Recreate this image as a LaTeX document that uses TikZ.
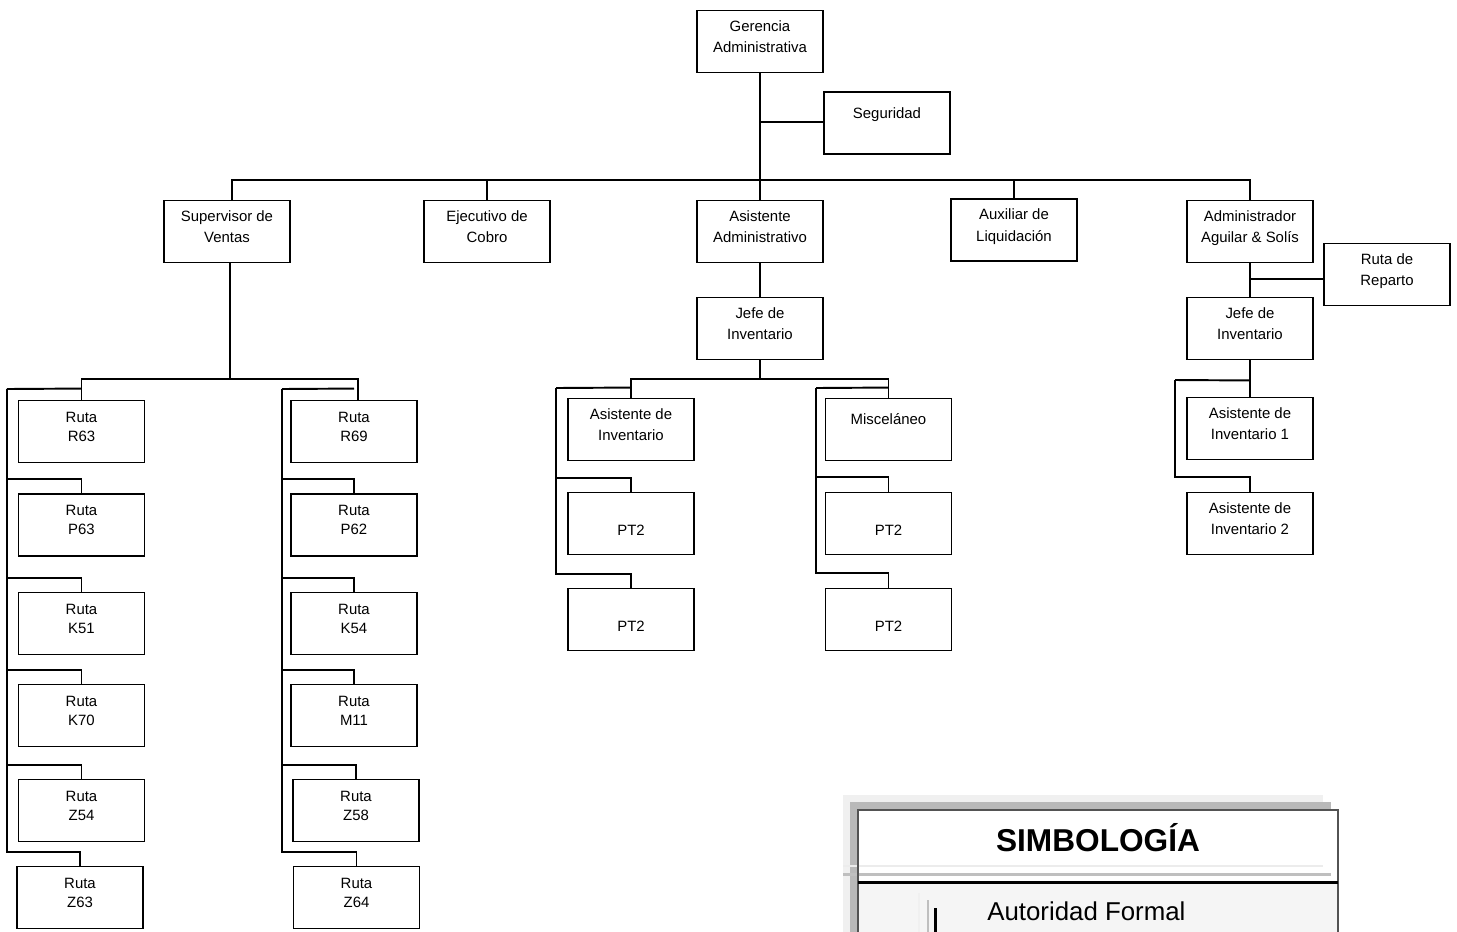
\documentclass[tikz,border=0pt]{standalone}
\usepackage{fontspec}
\setmainfont{Liberation Sans}

\begin{document}
\begin{tikzpicture}[
    x=0.02cm, y=-0.02cm,
    box/.style={draw, line width=1.1pt, minimum width=2.52cm, minimum height=1.24cm, align=center, inner sep=1pt, font=\fontsize{8.5}{12}\selectfont, text depth=5.6pt},
    ruta/.style={box, font=\fontsize{8.5}{10.8}\selectfont},
    ptbox/.style={box, text depth=0pt, text height=14pt},
    link/.style={line width=1.1pt}
]
\useasboundingbox (0,0) rectangle (1457,931);
\clip (0,0) rectangle (1457,931);

% top level
\node[box] (gerencia) at (760,41.5) {Gerencia\\Administrativa};
\node[box, text depth=10.8pt] (seguridad) at (887,123) {Seguridad};
\node[box] (supervisor) at (227,231.5) {Supervisor de\\Ventas};
\node[box] (ejecutivo) at (487,231.5) {Ejecutivo de\\Cobro};
\node[box] (asistadm) at (760,231.5) {Asistente\\Administrativo};
\node[box] (auxiliar) at (1014,230) {Auxiliar de\\Liquidación};
\node[box] (admin) at (1250,231.5) {Administrador\\Aguilar \& Solís};
\node[box] (reparto) at (1387,274.5) {Ruta de\\Reparto};

\coordinate (topbus) at (0,180);
\draw[link] (gerencia.south) -- (asistadm.north);
\draw[link] ([yshift=0.02cm]seguridad.west) -- ([yshift=0.02cm]seguridad.west -| gerencia.south);
\draw[link] ([xshift=0.1cm]supervisor.north) -- ([xshift=0.1cm]supervisor.north |- topbus) -| (admin.north);
\foreach \n in {ejecutivo, auxiliar}
  \draw[link] (\n.north) -- (\n.north |- topbus);

% sales routes
\node[ruta] (r63) at (81.5,431.5) {Ruta\\R63};
\node[ruta] (p63) at (81.5,525) {Ruta\\P63};
\node[ruta] (k51) at (81.5,623.5) {Ruta\\K51};
\node[ruta] (k70) at (81.5,715.5) {Ruta\\K70};
\node[ruta] (z54) at (81.5,810.5) {Ruta\\Z54};
\node[ruta] (z63) at (80,897.5) {Ruta\\Z63};
\node[ruta] (r69) at (354,431.5) {Ruta\\R69};
\node[ruta] (p62) at (354,525) {Ruta\\P62};
\node[ruta] (k54) at (354,623.5) {Ruta\\K54};
\node[ruta] (m11) at (354,715.5) {Ruta\\M11};
\node[ruta] (z58) at (356,810.5) {Ruta\\Z58};
\node[ruta] (z64) at (356.5,897.5) {Ruta\\Z64};

\coordinate (supbus) at (0,379);
\coordinate (lrail) at (7,389);
\coordinate (rrail) at (282,389);
\draw[link] ([xshift=0.06cm]supervisor.south) -- ([xshift=0.06cm]supervisor.south |- supbus);
\draw[link] (r63.north) -- (r63.north |- supbus) -| ([xshift=0.08cm]r69.north);
\draw[link] (r63.north) ++(0,-11) -- (lrail);
\draw[link] (r69.north) ++(0,-11) -- (rrail);
\foreach \n in {p63, k51, k70, z54, z63}
  \draw[link] (\n.north) -- ++(0,-14) -| (lrail);
\foreach \n in {p62, k54, m11, z58, z64}
  \draw[link] (\n.north) -- ++(0,-14) -| (rrail);

% inventory under the administrative assistant
\node[box] (jefeinv) at (760,328.5) {Jefe de\\Inventario};
\node[box] (asistinv) at (631,429.5) {Asistente de\\Inventario};
\node[box, text depth=12.4pt] (misc) at (888.5,429.5) {Misceláneo};
\node[ptbox] (ptA1) at (631,523.5) {PT2};
\node[ptbox] (ptA2) at (631,619.5) {PT2};
\node[ptbox] (ptB1) at (888.5,523.5) {PT2};
\node[ptbox] (ptB2) at (888.5,619.5) {PT2};

\coordinate (arail) at (556,388);
\coordinate (brail) at (816,388);
\draw[link] (asistadm.south) -- (jefeinv.north);
\draw[link] (jefeinv.south) -- ++(0,19);
\draw[link] (asistinv.north) -- ++(0,-19) -| (misc.north);
\draw[link] (asistinv.north) ++(0,-10) -- (arail);
\draw[link] (misc.north) ++(0,-10) -- (brail);
\foreach \n in {ptA1, ptA2}
  \draw[link] (\n.north) -- ++(0,-14) -| (arail);
\foreach \n in {ptB1, ptB2}
  \draw[link] (\n.north) -- ++(0,-15) -| (brail);

% distribution side
\node[box] (jefeinvb) at (1250,328.5) {Jefe de\\Inventario};
\node[box] (asist1) at (1250,428.5) {Asistente de\\Inventario 1};
\node[box] (asist2) at (1250,523.5) {Asistente de\\Inventario 2};

\coordinate (crail) at (1175,380);
\draw[link] (admin.south) -- (jefeinvb.north);
\draw[link] ([yshift=-0.09cm]reparto.west) -- ([yshift=-0.09cm]reparto.west -| admin.south);
\draw[link] (jefeinvb.south) -- (asist1.north);
\draw[link] (jefeinvb.south) ++(0,20) -- (crail);
\draw[link] (asist2.north) -- ++(0,-15) -| (crail);

% legend
\fill[gray!12] (843,795) rectangle (1323,940);
\fill[gray!55] (850,802) rectangle (1331,940);
\fill[white] (858,810) rectangle (1338,940);
\fill[gray!8] (859,884) rectangle (1337,940);
\draw[gray!15, line width=1.1pt] (843,866) -- (1323,866);
\draw[gray!50, line width=1.7pt] (843,874) -- (1331,874);
\draw[gray!65!black, line width=0.9pt] (858,940) -- (858,810) -- (1338,810) -- (1338,940);
\draw[black, line width=1.7pt] (858,882) -- (1338,882);
\draw[gray!12, line width=1.1pt] (919,893) -- (919,940);
\draw[gray!50, line width=1.1pt] (928,900) -- (928,940);
\draw[black, line width=1.7pt] (935,908) -- (935,940);
\node[font=\fontsize{18}{20}\selectfont\bfseries] (simbologia) at (1098,838) {SIMBOLOGÍA};
\node[anchor=west, inner sep=0pt, font=\fontsize{14.7}{16}\selectfont] (autoridad) at (987,911) {Autoridad Formal};
\end{tikzpicture}
\end{document}
